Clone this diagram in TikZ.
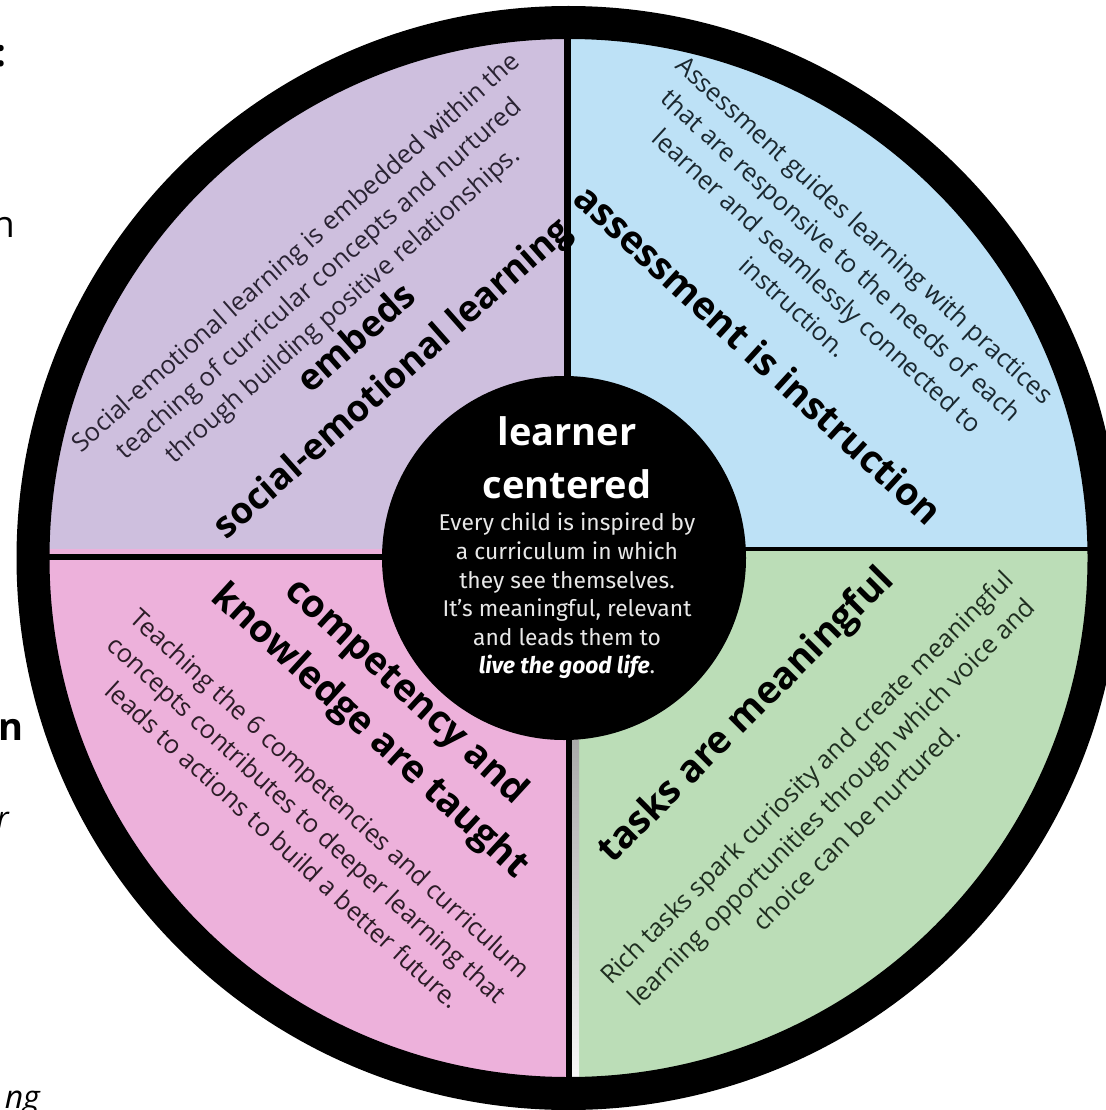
\documentclass[tikz,border=0pt]{standalone}
\usepackage{fontspec}
\setmainfont{Open Sans}
\newfontfamily\firafont{Fira Sans}
\definecolor{lav}{HTML}{CEBFDE}
\definecolor{sky}{HTML}{BDE1F6}
\definecolor{rose}{HTML}{EDB1DB}
\definecolor{mint}{HTML}{BBDDB7}
\definecolor{shade}{HTML}{A9A59A}
\definecolor{lavtxt}{HTML}{2A2333}
\definecolor{skytxt}{HTML}{1A2830}
\definecolor{rosetxt}{HTML}{2C1C27}
\definecolor{minttxt}{HTML}{1F2E20}
\definecolor{ctrtxt}{HTML}{E8E8E8}
\tikzset{
  bodytxt/.style={align=center, inner sep=0pt, font=\fontsize{25.5}{35}\selectfont},
  headtxt/.style={align=center, inner sep=0pt, text=black, font=\fontsize{38}{54}\selectfont\bfseries},
  ctrhead/.style={align=center, inner sep=0pt, text=white, font=\fontsize{38}{53}\selectfont\bfseries},
  ctrbody/.style={align=center, inner sep=0pt, text=ctrtxt, font=\firafont\fontsize{22.8}{28.6}\selectfont},
  frag/.style={inner sep=0pt, text=black},
  divider/.style={draw=black},
}
\begin{document}
\begin{tikzpicture}[x=1pt,y=-1pt]
\useasboundingbox (0,0) rectangle (1105,1110);
\fill[white] (0,0) rectangle (1105,1110);
\coordinate (C) at (568.5,558);
% quadrants
\begin{scope}
  \clip (C) circle[radius=522pt];
  \fill[lav]  (0,0) rectangle (568,549);
  \fill[sky]  (568,0) rectangle (1105,549);
  \fill[rose] (0,549) rectangle (568,1110);
  \fill[mint] (568,549) rectangle (1105,1110);
  \fill[shade] (571,558) rectangle (579,1110);
  \coordinate (vt) at (567,0);
  \coordinate (vm) at (567,558);
  \coordinate (vb) at (568.5,1110);
  \coordinate (hl) at (0,557);
  \coordinate (hm) at (568,557);
  \coordinate (hr) at (1105,548.5);
  \coordinate (hm2) at (568,548.5);
  \draw[divider, line width=7pt] (vt) -- (vm);
  \draw[divider, line width=6pt] ([xshift=1.5pt]vm) -- (vb);
  \draw[divider, line width=6pt] (hl) -- (hm);
  \draw[divider, line width=4pt] (hm2) -- (hr);
\end{scope}
% outer ring
\draw[line width=33pt] (C) circle[radius=535.5pt];
% centre disc
\node[circle, fill=black, minimum size=364pt, inner sep=0pt] (hub) at (564,558) {};

% centre texts
\node[ctrhead] (lc) at (567,458) {learner\\centered};
\node[ctrbody] (lcb) at (567,596) {Every child is inspired by\\a curriculum in which\\they see themselves.\\It’s meaningful, relevant\\and leads them to\\{\color{white}\bfseries\itshape live the good life}.};

% top-left
\node[bodytxt, text=lavtxt, rotate=41.5] (selb) at (320,280)
  {Social-emotional learning is embedded within the\\teaching of curricular concepts and nurtured\\through building positive relationships.};
\node[headtxt, rotate=41.5, font=\fontsize{36.5}{54}\selectfont\bfseries] (selh) at (376,360) {embeds\\social-emotional learning};

% top-right
\node[bodytxt, text=skytxt, rotate=-42.5] (aib) at (829.5,268)
  {Assessment guides learning with practices\\that are responsive to the needs of each\\learner and seamlessly connected to\\instruction.};
\node[headtxt, rotate=-42.5] (aih) at (759,354) {assessment is instruction};

% bottom-left
\node[headtxt, rotate=-42.5] (ckh) at (387.5,712) {competency and\\knowledge are taught};
\node[bodytxt, text=rosetxt, rotate=-42.5] (ckb) at (307,819)
  {Teaching the 6 competencies and curriculum\\concepts contributes to deeper learning that\\leads to actions to build a better future.};

% bottom-right
\node[headtxt, rotate=45] (tmh) at (747,716) {tasks are meaningful};
\node[bodytxt, text=minttxt, rotate=45] (tmb) at (831,802)
  {Rich tasks spark curiosity and create meaningful\\learning opportunities through which voice and\\choice can be nurtured.};

% cut-off fragments at the left edge
\node[frag, anchor=base west, font=\fontsize{38}{40}\selectfont\bfseries] (f1) at (-5,67) {:};
\node[frag, anchor=base east, font=\fontsize{37}{40}\selectfont] (f2) at (15,237) {n};
\node[frag, anchor=base east, font=\fontsize{38}{40}\selectfont\bfseries] (f3) at (24,740) {n};
\node[frag, anchor=base east, font=\fontsize{30}{32}\selectfont\itshape] (f4) at (9,828) {r};
\node[frag, anchor=base east, font=\fontsize{32}{34}\selectfont\itshape] (f5) at (40,1108) {ng};
\end{tikzpicture}
\end{document}
